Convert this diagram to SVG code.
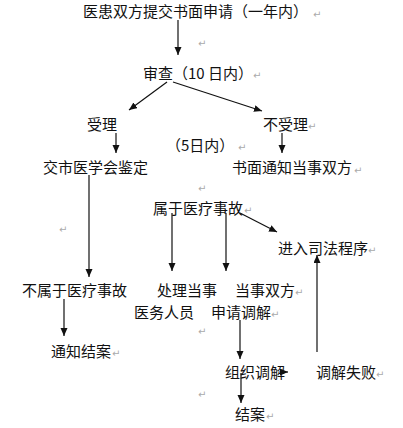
<svg xmlns="http://www.w3.org/2000/svg" width="403" height="428" viewBox="0 0 403 428">
<style>
.t{font-family:"Noto Sans CJK SC","Liberation Sans",sans-serif;font-size:15px;fill:#111}
.r{font-family:"DejaVu Sans",sans-serif;font-size:10px;fill:#aaa}
.c line,.c path{stroke:#111;stroke-width:1.2;fill:none;marker-end:url(#ah)}
</style>
<defs>
<marker id="ah" markerUnits="userSpaceOnUse" markerWidth="9" markerHeight="8" refX="8" refY="3.5" orient="auto">
<path d="M0,0 L8,3.5 L0,7 z" fill="#111"/>
</marker>
</defs>
<rect width="403" height="428" fill="#fff"/>
<g id="n1"><text class="t" x="83" y="17">医患双方提交书面申请（一年内）</text><text class="r" x="313" y="18">↵</text></g>
<g id="n2"><text class="t" x="143" y="79">审查（10 日内）</text><text class="r" x="253" y="79">↵</text></g>
<g id="n3"><text class="t" x="87" y="130">受理</text></g>
<g id="n4"><text class="t" x="263" y="130">不受理</text><text class="r" x="308" y="130">↵</text></g>
<g id="n5"><text class="t" x="166" y="151">（5日内）</text><text class="r" x="238" y="151">↵</text></g>
<g id="n6"><text class="t" x="43" y="173">交市医学会鉴定</text></g>
<g id="n7"><text class="t" x="232" y="173">书面通知当事双方</text><text class="r" x="354" y="174">↵</text></g>
<g id="n8"><text class="t" x="153" y="214">属于医疗事故</text><text class="r" x="244" y="214">↵</text></g>
<g id="n9"><text class="t" x="278" y="254">进入司法程序</text><text class="r" x="368" y="254">↵</text></g>
<g id="n10"><text class="t" x="22" y="296">不属于医疗事故</text></g>
<g id="n11"><text class="t" x="157" y="296">处理当事</text><text class="t" x="134" y="318">医务人员</text></g>
<g id="n12"><text class="t" x="235" y="296">当事双方</text><text class="r" x="295" y="296">↵</text><text class="t" x="211" y="318">申请调解</text><text class="r" x="271" y="318">↵</text></g>
<g id="n13"><text class="t" x="51" y="357">通知结案</text><text class="r" x="112" y="357">↵</text></g>
<g id="n14"><text class="t" x="225" y="378">组织调解</text></g>
<g id="n15"><text class="t" x="316" y="378">调解失败</text><text class="r" x="376" y="378">↵</text></g>
<g id="n16"><text class="t" x="235" y="420">结案</text><text class="r" x="266" y="420">↵</text></g>
<g id="marks">
<text class="r" x="198" y="47">↵</text>
<text class="r" x="198" y="192">↵</text>
<text class="r" x="59" y="233">↵</text>
<text class="r" x="198" y="335">↵</text>
<text class="r" x="198" y="398">↵</text>
</g>
<g id="connectors" class="c">
<line x1="178" y1="20" x2="178" y2="55"/>
<line x1="167" y1="82" x2="129" y2="110"/>
<line x1="173" y1="82" x2="262" y2="111"/>
<line x1="116" y1="133" x2="116" y2="153"/>
<line x1="282" y1="133" x2="282" y2="153"/>
<line x1="89" y1="175" x2="89" y2="277"/>
<line x1="172" y1="213" x2="172" y2="271"/>
<line x1="226" y1="213" x2="226" y2="271"/>
<line x1="240" y1="213" x2="277" y2="232"/>
<line x1="317" y1="352" x2="317" y2="255"/>
<line x1="64" y1="299" x2="64" y2="336"/>
<line x1="240" y1="320" x2="240" y2="359"/>
<line x1="241" y1="373" x2="241" y2="403"/>
<line x1="282" y1="372" x2="288" y2="372"/>
</g>
</svg>
